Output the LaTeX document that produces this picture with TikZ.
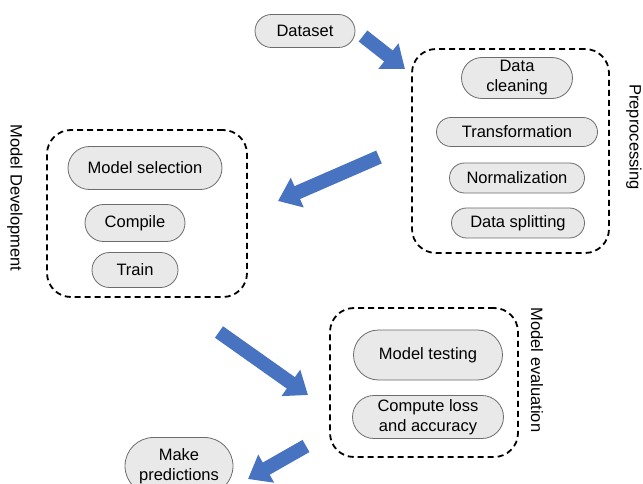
\documentclass[tikz,border=0pt]{standalone}
\usepackage{fontspec}
\setmainfont{Liberation Sans}
\usetikzlibrary{shapes.misc,arrows.meta}
\definecolor{arrowblue}{RGB}{72,115,192}
\definecolor{pillgray}{RGB}{233,233,233}
\tikzset{
  pill/.style={rounded rectangle, draw=gray!85!black, line width=0.8pt, fill=pillgray,
    inner sep=0pt, align=center, font=\fontsize{16.5}{20}\selectfont},
  groupbox/.style={draw, line width=1.8pt, dash pattern=on 6pt off 4pt, rounded corners=24pt},
  sidelabel/.style={rotate=-90, font=\fontsize{16.5}{20}\selectfont},
  bigarrow/.style={arrowblue, line width=14pt, -{Triangle[width=31pt,length=21pt]}}
}
\begin{document}
\begin{tikzpicture}[x=1pt, y=-1pt]
    \useasboundingbox (0,0) rectangle (643,484);
    % Start
    \node[pill, minimum width=100, minimum height=33] (dataset) at (305,31) {Dataset};
    % Preprocessing
    \node[groupbox, minimum width=197, minimum height=204] (prep) at (510.5,151) {};
    \node[pill, minimum width=111, minimum height=41] (clean) at (517,78) {Data\\cleaning};
    \node[pill, minimum width=161, minimum height=29] (transf) at (517,132) {Transformation};
    \node[pill, minimum width=135, minimum height=30] (norm) at (517,178) {Normalization};
    \node[pill, minimum width=133, minimum height=30] (split) at (518,223) {Data splitting};
    \node[sidelabel] (preplbl) at (634,137) {Preprocessing};
    % Model Development
    \node[groupbox, minimum width=200, minimum height=167] (dev) at (147,213.5) {};
    \node[pill, minimum width=154, minimum height=43] (select) at (145,168) {Model selection};
    \node[pill, minimum width=100, minimum height=37] (compile) at (135,223) {Compile};
    \node[pill, minimum width=86, minimum height=35] (train) at (135,270) {Train};
    \node[sidelabel] (devlbl) at (15,198) {Model Development};
    % Model evaluation
    \node[groupbox, minimum width=188, minimum height=149] (eval) at (424,382.5) {};
    \node[pill, minimum width=149, minimum height=50] (test) at (428,355) {Model testing};
    \node[pill, minimum width=151, minimum height=43] (loss) at (428,417) {Compute loss\\and accuracy};
    \node[sidelabel] (evallbl) at (537,370) {Model evaluation};
    % End
    \node[pill, minimum width=108, minimum height=57] (predict) at (179,466) {Make\\predictions};
    % Arrows
    \coordinate (a1s) at (363,36);
    \coordinate (a1e) at (405,69);
    \coordinate (a2s) at (379,157);
    \coordinate (a2e) at (278,201);
    \coordinate (a3s) at (219,332);
    \coordinate (a3e) at (308,395);
    \coordinate (a4s) at (306,446);
    \coordinate (a4e) at (248,479);
    \draw[bigarrow] (a1s) -- (a1e);
    \draw[bigarrow] (a2s) -- (a2e);
    \draw[bigarrow] (a3s) -- (a3e);
    \draw[bigarrow] (a4s) -- (a4e);
\end{tikzpicture}
\end{document}
